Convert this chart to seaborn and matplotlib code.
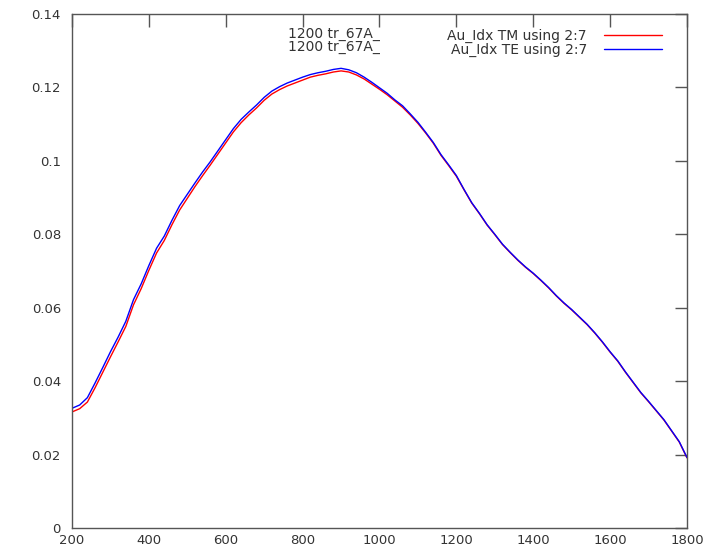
import pandas as pd
import matplotlib
matplotlib.use("Agg")
import matplotlib.pyplot as plt
from matplotlib.ticker import FuncFormatter
import seaborn as sns


# wavelength grid (nm)
wavelength = [
    200, 220, 240, 260, 280, 300, 320, 340, 360, 380,
    400, 420, 440, 460, 480, 500, 520, 540, 560, 580,
    600, 620, 640, 660, 680, 700, 720, 740, 760, 780,
    800, 820, 840, 860, 880, 900, 920, 940, 960, 980,
    1000, 1020, 1040, 1060, 1080, 1100, 1120, 1140, 1160, 1180,
    1200, 1220, 1240, 1260, 1280, 1300, 1320, 1340, 1360, 1380,
    1400, 1420, 1440, 1460, 1480, 1500, 1520, 1540, 1560, 1580,
    1600, 1620, 1640, 1660, 1680, 1700, 1720, 1740, 1760, 1780,
    1800,
]

# Au_Idx TE using 2:7
te_values = [
    0.0326, 0.0335, 0.0355, 0.0395, 0.0437, 0.0480, 0.0520, 0.0563, 0.0622, 0.0665,
    0.0715, 0.0762, 0.0795, 0.0838, 0.0878, 0.0909, 0.0940, 0.0970, 0.0998, 0.1028,
    0.1058, 0.1088, 0.1113, 0.1133, 0.1152, 0.1173, 0.1190, 0.1202, 0.1212, 0.1220,
    0.1228, 0.1235, 0.1240, 0.1244, 0.1249, 0.1252, 0.1248, 0.1240, 0.1228, 0.1214,
    0.1199, 0.1184, 0.1166, 0.1150, 0.1128, 0.1105, 0.1078, 0.1050, 0.1017, 0.0989,
    0.0960, 0.0922, 0.0886, 0.0857, 0.0826, 0.0800, 0.0773, 0.0751, 0.0730, 0.0711,
    0.0694, 0.0675, 0.0655, 0.0633, 0.0613, 0.0595, 0.0575, 0.0555, 0.0532, 0.0507,
    0.0480, 0.0455, 0.0425, 0.0397, 0.0369, 0.0345, 0.0320, 0.0295, 0.0265, 0.0235,
    0.0192,
]

# Au_Idx TM using 2:7
tm_values = [
    0.0316, 0.0325, 0.0343, 0.0382, 0.0424, 0.0466, 0.0507, 0.0549, 0.0608, 0.0652,
    0.0702, 0.0749, 0.0783, 0.0826, 0.0866, 0.0898, 0.0930, 0.0960, 0.0989, 0.1019,
    0.1049, 0.1079, 0.1104, 0.1125, 0.1144, 0.1165, 0.1182, 0.1194, 0.1204, 0.1212,
    0.1220, 0.1228, 0.1233, 0.1237, 0.1242, 0.1245, 0.1242, 0.1234, 0.1223, 0.1209,
    0.1195, 0.1180, 0.1163, 0.1146, 0.1125, 0.1102, 0.1076, 0.1048, 0.1015, 0.0987,
    0.0958, 0.0921, 0.0885, 0.0856, 0.0825, 0.0799, 0.0772, 0.0750, 0.0729, 0.0710,
    0.0693, 0.0674, 0.0654, 0.0632, 0.0612, 0.0594, 0.0574, 0.0554, 0.0531, 0.0506,
    0.0479, 0.0454, 0.0424, 0.0396, 0.0368, 0.0344, 0.0319, 0.0294, 0.0264, 0.0234,
    0.0191,
]

series_labels = ["Au_Idx TM using 2:7", "Au_Idx TE using 2:7"]
title_lines = ["1200 tr_67A_", "1200 tr_67A_"]
x_ticks = [200, 400, 600, 800, 1000, 1200, 1400, 1600, 1800]
y_ticks = [0, 0.02, 0.04, 0.06, 0.08, 0.1, 0.12, 0.14]


df = pd.concat([
    pd.DataFrame({"x": wavelength, "y": tm_values, "series": series_labels[0]}),
    pd.DataFrame({"x": wavelength, "y": te_values, "series": series_labels[1]}),
])

sns.set_style("white")
plt.rcParams["font.family"] = ["DejaVu Sans"]

fig = plt.figure(figsize=(7.18, 5.49), dpi=100)
ax = fig.add_axes([0.1003, 0.0383, 0.8565, 0.9362])

sns.lineplot(
    data=df,
    x="x",
    y="y",
    hue="series",
    palette={series_labels[0]: "#ff0000", series_labels[1]: "#0000ff"},
    linewidth=1.0,
    ax=ax,
    legend=False
)

ax.set_xlim(200, 1800)
ax.set_ylim(0, 0.14)
ax.set_xticks(x_ticks)
ax.set_yticks(y_ticks)
ax.yaxis.set_major_formatter(FuncFormatter(lambda v, p: "%g" % v))
ax.set_xlabel("")
ax.set_ylabel("")

for side in ax.spines.values():
    side.set_color("#555555")
    side.set_linewidth(1.0)

ax.tick_params(
    direction="in",
    top=True,
    right=True,
    length=9,
    width=1.0,
    color="#555555",
    labelsize=9.5,
    labelcolor="#333333"
)
ax.tick_params(axis="x", pad=4)
ax.tick_params(axis="y", pad=8)

# legend: label text first, then line sample
handles = [
    plt.Line2D([], [], color="#ff0000", linewidth=1.0),
    plt.Line2D([], [], color="#0000ff", linewidth=1.0),
]
ax.legend(
    handles,
    series_labels,
    loc="upper right",
    bbox_to_anchor=(0.975, 0.99),
    markerfirst=False,
    frameon=False,
    handlelength=4.2,
    handletextpad=1.2,
    labelspacing=0.0,
    borderpad=0.2,
    fontsize=10,
    labelcolor="#333333"
)

for i, line in enumerate(title_lines):
    ax.text(
        0.426, 0.962 - i * 0.027, line,
        transform=ax.transAxes,
        ha="center",
        va="center",
        fontsize=10,
        color="#333333"
    )

plt.savefig("out.png", dpi=100)
plt.close()
